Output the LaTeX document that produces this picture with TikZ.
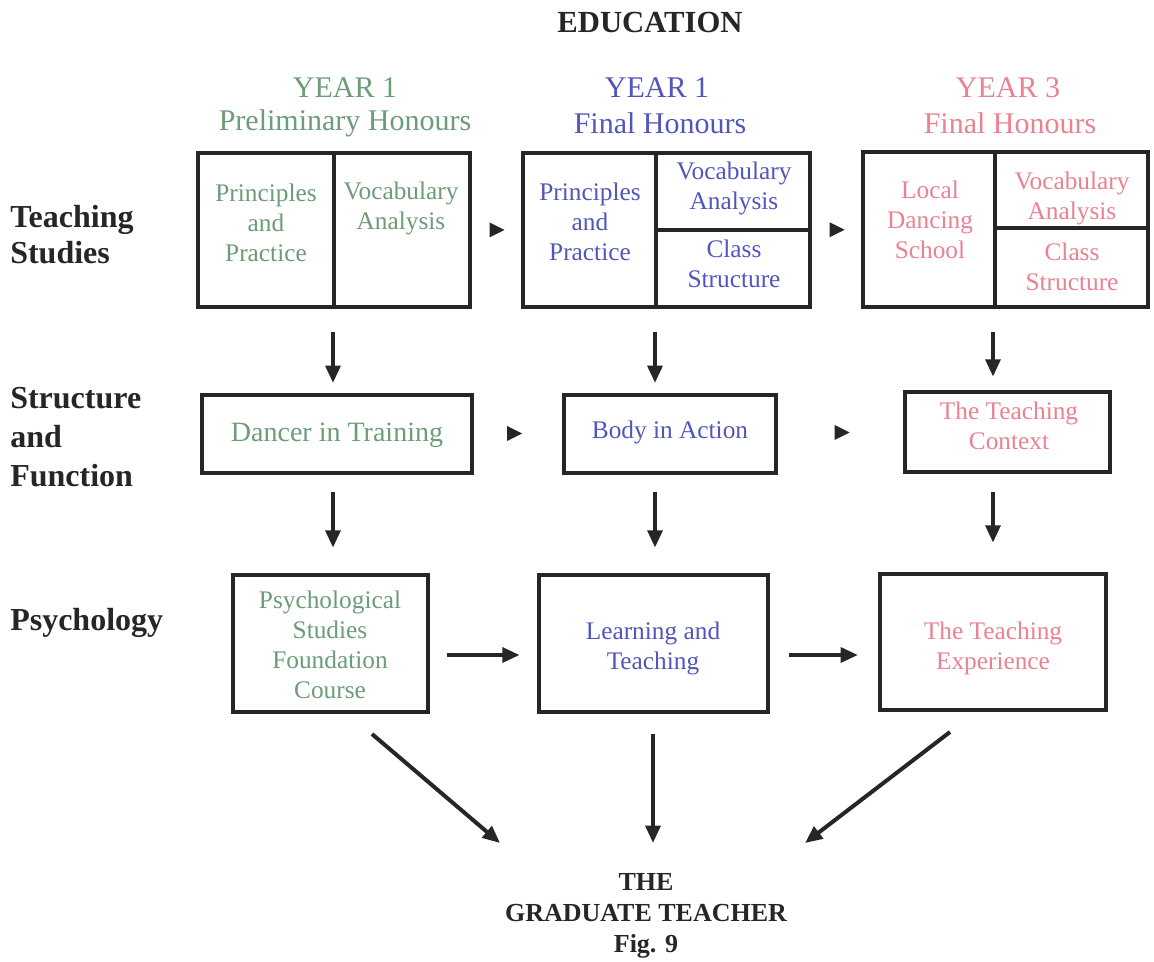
\documentclass[tikz,border=0pt]{standalone}
\usepackage{fontspec}
\setmainfont{Liberation Serif}
\usetikzlibrary{arrows.meta,calc}
\definecolor{ygreen}{RGB}{108,156,120}
\definecolor{yblue}{RGB}{82,86,188}
\definecolor{ypink}{RGB}{234,130,146}
\definecolor{ink}{RGB}{38,38,38}
\begin{document}
\begin{tikzpicture}[x=0.75pt,y=-0.75pt,
  box/.style={draw=ink,line width=3pt,rectangle,inner sep=0pt},
  txt/.style={align=center,font=\fontsize{19}{22.5}\selectfont,inner sep=0pt},
  hdr/.style={align=center,font=\fontsize{22.5}{26}\selectfont,inner sep=0pt},
  lab/.style={align=left,anchor=west,text=ink,inner sep=0pt},
  arr/.style={draw=ink,line width=3pt,-{Triangle[length=13pt,width=11pt]}},
  div/.style={draw=ink,line width=3pt},
  tri/.style={fill=ink}
]
\useasboundingbox[fill=white] (0,0) rectangle (1154,962);

% title
\node[font=\bfseries\fontsize{23}{27}\selectfont,text=ink] (title) at (650,23) {EDUCATION};

% year headers
\node[hdr,text=ygreen] (h1a) at (345,88) {YEAR 1};
\node[hdr,text=ygreen] (h1b) at (345,123) {Preliminary Honours};
\node[hdr,text=yblue] (h2a) at (657,88) {YEAR 1};
\node[hdr,text=yblue] (h2b) at (660,123) {Final Honours};
\node[hdr,text=ypink] (h3a) at (1008,88) {YEAR 3};
\node[hdr,text=ypink] (h3b) at (1010,123) {Final Honours};

% row labels
\node[lab,font=\bfseries\fontsize{24}{27}\selectfont] (l1) at (10,235) {Teaching\\Studies};
\node[lab,font=\bfseries\fontsize{24}{29}\selectfont] (l2) at (10,437) {Structure\\and\\Function};
\node[lab,font=\bfseries\fontsize{24}{29}\selectfont] (l3) at (10,623) {Psychology};

% row 1 boxes
\node[box,minimum width=272*0.75pt,minimum height=154*0.75pt] (A) at (334,230) {};
\node[box,minimum width=287*0.75pt,minimum height=154*0.75pt] (B) at (666.5,230) {};
\node[box,minimum width=285*0.75pt,minimum height=155*0.75pt] (C) at (1005.5,229.5) {};
\draw[div] (A.north) -- (A.south);
\draw[div] ($(B.north west)+(135,0)$) -- ($(B.south west)+(135,0)$);
\draw[div] ($(B.west)+(135,0)$) -- (B.east);
\draw[div] ($(C.north west)+(134,0)$) -- ($(C.south west)+(134,0)$);
\draw[div] ($(C.west)+(134,-1.5)$) -- ($(C.east)+(0,-1.5)$);

\node[txt,text=ygreen] (a1) at (266,223) {Principles\\and\\Practice};
\node[txt,text=ygreen] (a2) at (401,208) {Vocabulary\\Analysis};
\node[txt,text=yblue] (b1) at (590,222) {Principles\\and\\Practice};
\node[txt,text=yblue] (b2) at (734,188) {Vocabulary\\Analysis};
\node[txt,text=yblue] (b3) at (734,264) {Class\\Structure};
\node[txt,text=ypink] (c1) at (930,220) {Local\\Dancing\\School};
\node[txt,text=ypink] (c2) at (1072,198) {Vocabulary\\Analysis};
\node[txt,text=ypink] (c3) at (1072,267) {Class\\Structure};

% row 2 boxes
\node[box,minimum width=270*0.75pt,minimum height=78*0.75pt] (D) at (337,434) {};
\node[box,minimum width=212*0.75pt,minimum height=78*0.75pt] (E) at (670,434) {};
\node[box,minimum width=205*0.75pt,minimum height=80*0.75pt] (F) at (1007.5,432) {};
\node[txt,text=ygreen,font=\fontsize{21}{24}\selectfont] (d1) at (337,435) {Dancer in Training};
\node[txt,text=yblue] (e1) at (670,432) {Body in Action};
\node[txt,text=ypink] (f1) at (1009,426) {The Teaching\\Context};

% row 3 boxes
\node[box,minimum width=195*0.75pt,minimum height=137*0.75pt] (G) at (330.5,643.5) {};
\node[box,minimum width=229*0.75pt,minimum height=137*0.75pt] (H) at (653.5,643.5) {};
\node[box,minimum width=226*0.75pt,minimum height=136*0.75pt] (I) at (993,642) {};
\node[txt,text=ygreen] (g1) at (330,645) {Psychological\\Studies\\Foundation\\Course};
\node[txt,text=yblue] (h1) at (653,648) {Learning and\\Teaching};
\node[txt,text=ypink] (i1) at (993,648) {The Teaching\\Experience};

% bottom text
\node[align=center,font=\bfseries\fontsize{19.5}{23.25}\selectfont,text=ink,inner sep=0pt] (T) at (646,916) {THE\\GRADUATE TEACHER\\Fig. 9};

% lanes
\coordinate (x1) at (333,0);
\coordinate (x2) at (655,0);
\coordinate (x3) at (993,0);
\coordinate (y3) at (0,655);
\coordinate (gl) at (500,843);
\coordinate (gc) at (653,843);
\coordinate (gr) at (805,843);

% small triangles between boxes
\fill[tri] ($(A.east)!0.5!(B.west)$) ++(-7,-7.5) -- ++(15,7.5) -- ++(-15,7.5) -- cycle;
\fill[tri] ($(B.east)!0.5!(C.west)$) ++(-7,-7.5) -- ++(15,7.5) -- ++(-15,7.5) -- cycle;
\fill[tri] ($(D.east)!0.5!(E.west)$) ++(-11,-8) -- ++(15,7.5) -- ++(-15,7.5) -- cycle;
\fill[tri] ($(E.east)!0.5!(F.west)$) ++(-6,-8) -- ++(15,7.5) -- ++(-15,7.5) -- cycle;

% vertical arrows
\draw[arr,shorten <=17pt,shorten >=7.5pt] (x1 |- A.south) -- (x1 |- D.north);
\draw[arr,shorten <=17pt,shorten >=7.5pt] (x2 |- B.south) -- (x2 |- E.north);
\draw[arr,shorten <=17pt,shorten >=10pt] (x3 |- C.south) -- (x3 |- F.north);
\draw[arr,shorten <=13pt,shorten >=19pt] (x1 |- D.south) -- (x1 |- G.north);
\draw[arr,shorten <=13pt,shorten >=19pt] (x2 |- E.south) -- (x2 |- H.north);
\draw[arr,shorten <=13.5pt,shorten >=22pt] (x3 |- F.south) -- (x3 |- I.north);

% horizontal arrows
\draw[arr,shorten <=13pt,shorten >=13pt] (G.east |- y3) -- (H.west |- y3);
\draw[arr,shorten <=14pt,shorten >=15pt] (H.east |- y3) -- (I.west |- y3);

% to the graduate teacher
\draw[arr] ($(G.south east)+(-58,20)$) -- (gl);
\draw[arr,shorten <=15pt] (H.south -| gc) -- (gc);
\draw[arr] ($(I.south)+(-43,20)$) -- (gr);
\end{tikzpicture}
\end{document}
